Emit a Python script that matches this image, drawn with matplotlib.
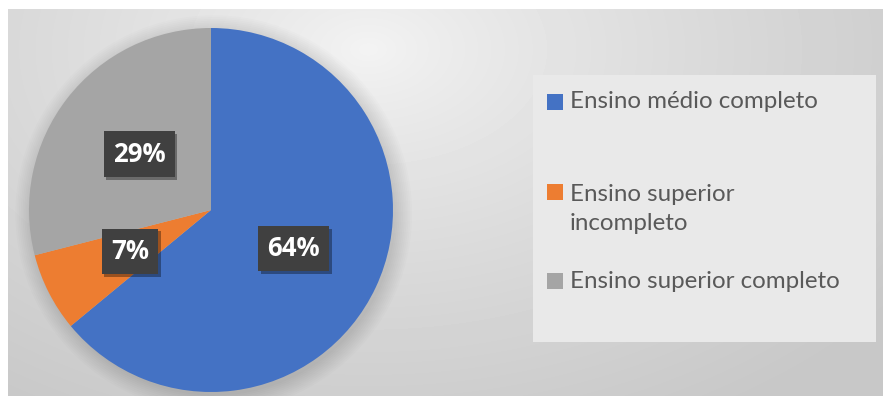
import numpy as np
import matplotlib.pyplot as plt
from matplotlib import patheffects
from matplotlib.patches import Rectangle, Circle

# dados do gráfico
categorias = ['Ensino médio completo', 'Ensino superior\nincompleto', 'Ensino superior completo']
percentuais = [64, 7, 29]
cores = ['#4472C4', '#ED7D31', '#A5A5A5']

W, H = 883, 396
fig = plt.figure(figsize=(W / 100, H / 100), dpi=100)
fig.patch.set_facecolor('white')


def px(x, y):
    # pixel (a partir do canto superior esquerdo) -> fração da figura
    return x / W, 1 - y / H


# fundo com gradiente radial
bg = fig.add_axes([8 / W, 0, (W - 8) / W, (H - 9) / H])
yy, xx = np.mgrid[0:H - 9, 0:W - 8]
d = np.hypot((xx - 360) / 650, (yy - 40) / 420)
shade = 0.955 - 0.17 * np.clip(d, 0, 1) ** 0.8
bg.imshow(shade, cmap='gray', vmin=0, vmax=1, aspect='auto', interpolation='bilinear')
bg.axis('off')

# pizza
cx, cy, r = 211, 210, 182
ax = fig.add_axes([(cx - r) / W, (H - cy - r) / H, 2 * r / W, 2 * r / H])
for i in range(10):
    ax.add_patch(Circle((0.015, -0.02), 1 + 0.01 * i, color='black', alpha=0.012,
                        lw=0, zorder=0, clip_on=False))
wedges, texts, autotexts = ax.pie(percentuais, colors=cores, startangle=90,
                                  counterclock=False, autopct='%.0f%%',
                                  pctdistance=0.5, radius=1,
                                  wedgeprops=dict(linewidth=0))
ax.set_xlim(-1, 1)
ax.set_ylim(-1, 1)
ax.axis('off')

for t in autotexts:
    t.set_fontfamily('Open Sans')
    t.set_fontweight('bold')
    t.set_fontsize(18.5)
    t.set_color('white')
    t.set_bbox(dict(boxstyle='square,pad=0.36', facecolor='#404040', edgecolor='none'))
    t.get_bbox_patch().set_path_effects([
        patheffects.SimplePatchShadow(offset=(2, -2), shadow_rgbFace='black', alpha=0.35),
        patheffects.Normal()])

# legenda
lx0, ly0, lx1, ly1 = 533, 75, 876, 342
fig.patches.append(Rectangle(px(lx0, ly1), (lx1 - lx0) / W, (ly1 - ly0) / H,
                             transform=fig.transFigure, facecolor='#e9e9e9',
                             edgecolor='none', zorder=1))
linhas_y = [102, 192, 281]
for cat, cor, y in zip(categorias, cores, linhas_y):
    fig.patches.append(Rectangle(px(547, y + 8), 16 / W, 16 / H,
                                 transform=fig.transFigure, facecolor=cor,
                                 edgecolor='none', zorder=2))
    n = cat.count('\n')
    fig.text(*px(570, y + n * 17), cat, fontsize=17.4, family='Lato', color='#595959',
             va='center', ha='left', linespacing=1.42, zorder=3)

fig.savefig('out.png', dpi=100)
